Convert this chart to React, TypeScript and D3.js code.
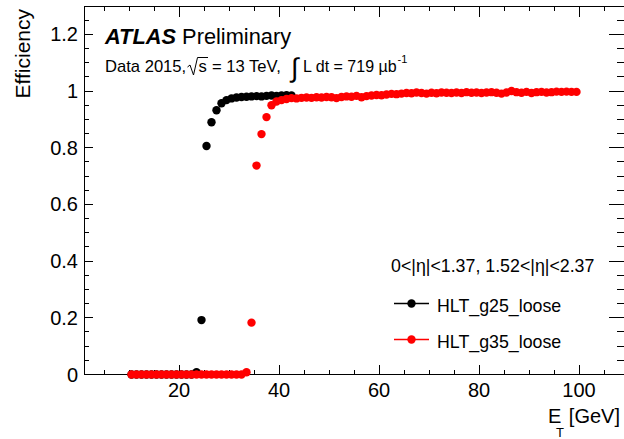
import React from "react";
import * as d3 from "d3";

const W = 624;
const H = 439;
const font = "'Liberation Sans', Arial, Helvetica, sans-serif";

// bin centres [GeV]
const etBinsG25 = [
  10.5, 11.5, 12.5, 13.5, 14.5, 15.5, 16.5, 17.5, 18.5, 19.5, 20.5, 21.5, 22.5,
  23.5, 24.5, 25.5, 26.5, 27.5, 28.5, 29.5, 30.5, 31.5, 32.5, 33.5, 34.5, 35.5,
  36.5, 37.5, 38.5, 39.5, 40.5, 41.5, 42.5,
];
const effG25 = [
  0, 0, 0, 0, 0, 0, 0, 0, 0, 0, 0, 0, 0,
  0.008, 0.192, 0.806, 0.89, 0.932, 0.957, 0.968, 0.974, 0.977, 0.979, 0.98,
  0.981, 0.982, 0.981, 0.983, 0.984, 0.983, 0.984, 0.985, 0.984,
];

const etBinsG35 = [
  10.5, 11.5, 12.5, 13.5, 14.5, 15.5, 16.5, 17.5, 18.5, 19.5, 20.5, 21.5, 22.5,
  23.5, 24.5, 25.5, 26.5, 27.5, 28.5, 29.5, 30.5, 31.5, 32.5, 33.5, 34.5, 35.5,
  36.5, 37.5, 38.5, 39.5, 40.5, 41.5, 42.5, 43.5, 44.5, 45.5, 46.5, 47.5, 48.5,
  49.5, 50.5, 51.5, 52.5, 53.5, 54.5, 55.5, 56.5, 57.5, 58.5, 59.5, 60.5, 61.5,
  62.5, 63.5, 64.5, 65.5, 66.5, 67.5, 68.5, 69.5, 70.5, 71.5, 72.5, 73.5, 74.5,
  75.5, 76.5, 77.5, 78.5, 79.5, 80.5, 81.5, 82.5, 83.5, 84.5, 85.5, 86.5, 87.5,
  88.5, 89.5, 90.5, 91.5, 92.5, 93.5, 94.5, 95.5, 96.5, 97.5, 98.5, 99.5,
];
const effG35 = [
  0, 0, 0, 0, 0, 0, 0, 0, 0, 0, 0, 0, 0, 0, 0, 0, 0, 0, 0, 0, 0, 0, 0,
  0.008, 0.183, 0.737, 0.848, 0.908, 0.95, 0.963, 0.968,
  0.972, 0.975, 0.974, 0.976, 0.977, 0.976, 0.978, 0.977, 0.979, 0.978,
  0.975, 0.979, 0.981, 0.98, 0.983, 0.978, 0.982, 0.984, 0.986, 0.985,
  0.988, 0.99, 0.989, 0.991, 0.993, 0.992, 0.995, 0.993, 0.991, 0.994,
  0.992, 0.995, 0.994, 0.993, 0.995, 0.993, 0.996, 0.994, 0.995, 0.993,
  0.995, 0.996, 0.994, 0.991, 0.995, 1.0, 0.996, 0.994, 0.997, 0.993,
  0.996, 0.997, 0.995, 0.996, 0.998, 0.997, 0.998, 0.997, 0.997,
];

const xMajor = [20, 40, 60, 80, 100];
const yMajor = [0, 0.2, 0.4, 0.6, 0.8, 1, 1.2];

const series = [
  { name: "HLT_g25_loose", color: "#000000", x: etBinsG25, y: effG25 },
  { name: "HLT_g35_loose", color: "#ff0000", x: etBinsG35, y: effG35 },
];

const left = 84;
const right = 629;
const top = 6;
const bottom = 374.5;

export default function App() {
  const x = d3.scaleLinear().domain([1, 110]).range([left, right]);
  const y = d3.scaleLinear().domain([0, 1.3]).range([bottom, top]);

  const xMinor = d3.range(5, 110, 5).filter((v) => !xMajor.includes(v));
  const yMinor = d3.range(0.05, 1.3, 0.05).filter(
    (v) => !yMajor.some((m) => Math.abs(m - v) < 1e-6)
  );

  const ln = { stroke: "#000", strokeWidth: 1, shapeRendering: "crispEdges" as const };

  return (
    <svg
      width={W}
      height={H}
      style={{ position: "absolute", left: 0, top: 0, background: "#fff" }}
      fontFamily={font}
    >
      <rect x={0} y={0} width={W} height={H} fill="#fff" />

      {/* frame */}
      <rect x={left} y={top} width={right - left} height={bottom - top} fill="none" {...ln} />

      {/* x ticks, bottom + top */}
      {xMajor.map((v) => (
        <g key={"xM" + v}>
          <line x1={x(v)} x2={x(v)} y1={bottom} y2={bottom - 10} {...ln} />
          <line x1={x(v)} x2={x(v)} y1={top} y2={top + 10.5} {...ln} />
          <text x={x(v)} y={397} fontSize={20} textAnchor="middle">{v}</text>
        </g>
      ))}
      {xMinor.map((v) => (
        <g key={"xm" + v}>
          <line x1={x(v)} x2={x(v)} y1={bottom} y2={bottom - 5} {...ln} />
          <line x1={x(v)} x2={x(v)} y1={top} y2={top + 5} {...ln} />
        </g>
      ))}

      {/* y ticks, left + right */}
      {yMajor.map((v) => (
        <g key={"yM" + v}>
          <line x1={left} x2={left + 9} y1={y(v)} y2={y(v)} {...ln} />
          <line x1={624} x2={609} y1={y(v)} y2={y(v)} {...ln} />
          <text x={78} y={y(v) + 7} fontSize={20} textAnchor="end">{v}</text>
        </g>
      ))}
      {yMinor.map((v) => (
        <g key={"ym" + v.toFixed(2)}>
          <line x1={left} x2={left + 5} y1={y(v)} y2={y(v)} {...ln} />
          <line x1={624} x2={617} y1={y(v)} y2={y(v)} {...ln} />
        </g>
      ))}

      {/* axis titles */}
      <text transform="translate(30,9) rotate(-90)" fontSize={21} textAnchor="end">
        Efficiency
      </text>
      <text x={548} y={423} fontSize={20}>
        E
        <tspan x={556} dy={14} fontSize={13}>T</tspan>
      </text>
      <text x={620} y={423} fontSize={20} textAnchor="end">[GeV]</text>

      {/* data */}
      {series.map((s) => (
        <g key={s.name} fill={s.color}>
          {s.x.map((xv, i) => (
            <circle key={i} cx={x(xv)} cy={y(s.y[i])} r={4.2} />
          ))}
        </g>
      ))}

      {/* ATLAS label */}
      <text x={105} y={44} fontSize={21.8}>
        <tspan fontWeight="bold" fontStyle="italic">ATLAS</tspan>
        <tspan> Preliminary</tspan>
      </text>
      <path d="M187.5,67 L190,65 L193.5,75 L197.5,57.5 L208,57.5" fill="none" stroke="#000" strokeWidth={1} />
      <text y={72} fontSize={16.6}>
        <tspan x={105}>Data 2015,</tspan>
        <tspan x={198.5}>s</tspan>
        <tspan x={212}>= 13 TeV,</tspan>
      </text>
      <text x={291} y={77} fontSize={27}>∫</text>
      <text x={303} y={72} fontSize={16}>
        L dt = 719 µb
        <tspan dx={1} dy={-9} fontSize={11}>-1</tspan>
      </text>

      {/* legend */}
      <text x={391} y={272} fontSize={17.8}>0&lt;|η|&lt;1.37, 1.52&lt;|η|&lt;2.37</text>
      {series.map((s, i) => {
        const ly = 303.5 + i * 36;
        return (
          <g key={"leg" + s.name}>
            <line x1={394} x2={429} y1={ly} y2={ly} stroke={s.color} strokeWidth={1.5} />
            <circle cx={411.5} cy={ly} r={4.2} fill={s.color} />
            <text x={437} y={ly + 8} fontSize={17.8}>{s.name}</text>
          </g>
        );
      })}
    </svg>
  );
}
